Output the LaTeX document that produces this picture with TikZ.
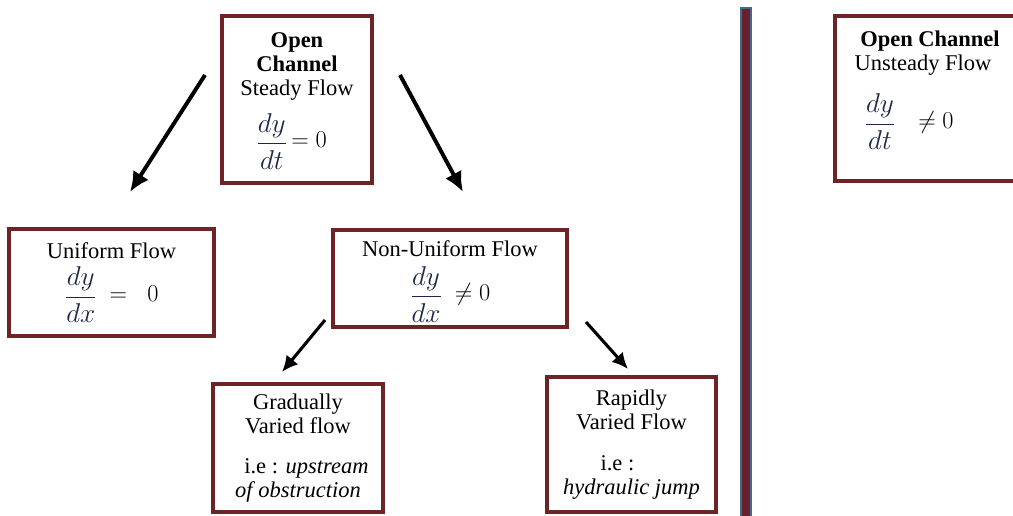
\documentclass[tikz,border=0pt]{standalone}
\usepackage{amsmath,amssymb}
\usepackage{fontspec}
\setmainfont{Liberation Serif}
\usepackage{xcolor}
\usepackage{tikz}
\usetikzlibrary{arrows.meta,calc,positioning}

\definecolor{boxred}{RGB}{110,35,38}
\definecolor{barred}{RGB}{105,32,45}
\definecolor{barblue}{RGB}{65,105,145}
\definecolor{mathblue}{RGB}{30,40,70}
\newcommand{\bigfrac}[2]{\raisebox{-2pt}{\scalebox{1.12}{$\color{mathblue}\dfrac{#1}{#2}$}}}

\begin{document}
\begin{tikzpicture}[x=0.025cm,y=-0.025cm,
  box/.style={draw=boxred,line width=2.2pt,fill=white,inner sep=0pt,align=center,
    font=\fontsize{16}{17}\selectfont},
  bigarrow/.style={line width=2.8pt,-{Latex[length=5mm,width=4.6mm]}},
  smallarrow/.style={line width=2.2pt,-{Latex[length=4mm,width=3.8mm]}}]
  \useasboundingbox (0,0) rectangle (1013,515);
  % steady side
  \node[box,minimum width=3.75cm,minimum height=4.175cm] (steady) at (297,99.5)
    {\textbf{Open}\\ \textbf{Channel}\\ Steady Flow\\[8pt]
     \hspace*{-8pt}\bigfrac{dy}{dt}\,$=0$\\[-4pt]};
  \node[box,minimum width=5.125cm,minimum height=2.675cm] (uniform) at (111.5,282.5)
    {Uniform Flow\\[5pt] \bigfrac{dy}{dx}\;\;$=\;\;0$};
  \node[box,minimum width=5.85cm,minimum height=2.425cm] (nonuniform) at (450,278.5)
    {Non-Uniform Flow\\[6pt] \bigfrac{dy}{dx}\;\;$\neq 0$\\[-6pt]};
  \node[box,minimum width=4.25cm,minimum height=3.2cm] (gradual) at (298,448)
    {Gradually\\ Varied flow\\[12pt] \hspace*{12pt}i.e : \textit{upstream}\\ \textit{of obstruction}};
  \node[box,minimum width=4.225cm,minimum height=3.375cm] (rapid) at (631.5,444.5)
    {Rapidly\\ Varied Flow\\[12pt] \hspace*{-20pt}i.e :\\ \textit{hydraulic jump}};
  % arrows
  \coordinate (s1) at (205,75);  \coordinate (e1) at (130,192);
  \coordinate (s2) at (400,75);  \coordinate (e2) at (463,192);
  \coordinate (s3) at (325,320); \coordinate (e3) at (282,372);
  \coordinate (s4) at (586,322); \coordinate (e4) at (628,369);
  \draw[bigarrow] (s1) -- (e1);
  \draw[bigarrow] (s2) -- (e2);
  \draw[smallarrow] (s3) -- (e3);
  \draw[smallarrow] (s4) -- (e4);
  % divider
  \draw[draw=barblue,fill=barred,line width=1.2pt] (741,8) rectangle (751,530);
  % unsteady side
  \node[box,minimum width=4.75cm,minimum height=4.125cm] (unsteady) at (930,98.5)
    {\textbf{Open Channel}\\ \hspace*{-10pt}Unsteady Flow\\[12pt]
     \hspace*{-30pt}\bigfrac{dy}{dt}\quad$\neq 0$\\[10pt]};
\end{tikzpicture}
\end{document}
